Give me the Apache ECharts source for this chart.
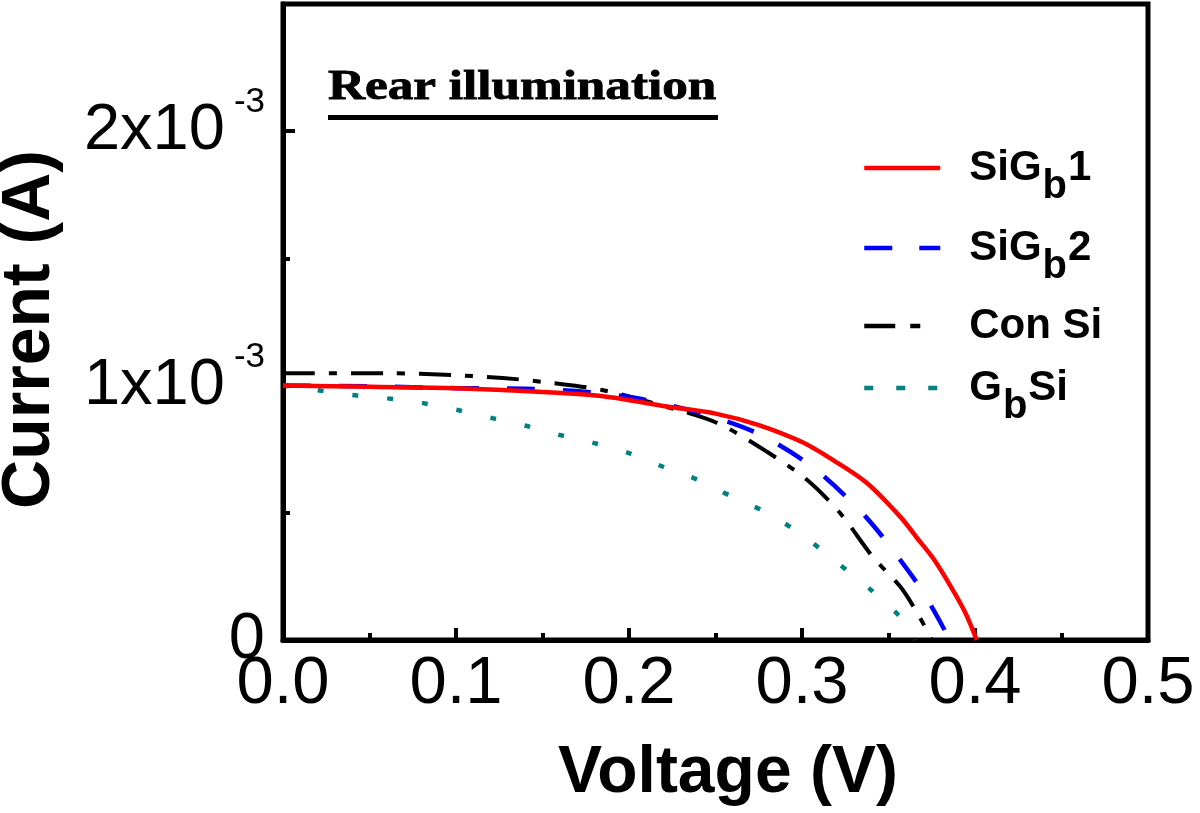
<!DOCTYPE html>
<html>
<head>
<meta charset="utf-8">
<script src="https://cdn.jsdelivr.net/npm/echarts@6/dist/echarts.min.js"></script>
<style>
html,body{margin:0;padding:0;background:#fff;}
#chart{width:1200px;height:813px;}
</style>
</head>
<body>
<div id="chart"></div>
<script>
// ---- data (voltage in V, current in mA) ----
const seriesNames = ['SiGb1', 'SiGb2', 'ConSi', 'GbSi'];

const sigb1V = [0, 0.05, 0.10, 0.15, 0.185, 0.222, 0.25, 0.275, 0.30, 0.318, 0.3375, 0.357, 0.3665, 0.3757, 0.3855, 0.3942, 0.401];
const sigb1I = [1.00, 0.995, 0.99, 0.975, 0.958, 0.918, 0.89, 0.845, 0.778, 0.707, 0.617, 0.483, 0.401, 0.322, 0.216, 0.110, 0.0];

const sigb2V = [0, 0.05, 0.10, 0.14, 0.176, 0.205, 0.241, 0.274, 0.306, 0.337, 0.364, 0.375, 0.3855];
const sigb2I = [1.00, 0.997, 0.99, 0.988, 0.975, 0.95, 0.892, 0.813, 0.68, 0.483, 0.248, 0.13, 0.0];

const consiV = [0, 0.06, 0.098, 0.127, 0.156, 0.185, 0.224, 0.251, 0.28, 0.303, 0.322, 0.341, 0.357, 0.368, 0.375];
const consiI = [1.049, 1.049, 1.041, 1.03, 1.01, 0.982, 0.912, 0.853, 0.739, 0.629, 0.499, 0.326, 0.208, 0.09, 0.0];

const gbsiV = [0, 0.02, 0.04, 0.06, 0.081, 0.101, 0.121, 0.141, 0.16, 0.18, 0.2, 0.22, 0.24, 0.26, 0.28, 0.30, 0.32, 0.34, 0.36, 0.365];
const gbsiI = [1.0, 0.982, 0.963, 0.95, 0.931, 0.904, 0.872, 0.841, 0.806, 0.774, 0.735, 0.68, 0.629, 0.562, 0.499, 0.413, 0.306, 0.196, 0.067, 0.0];

const xTickLabels = ['0.0', '0.1', '0.2', '0.3', '0.4', '0.5'];
const yTickMantissa = ['0', '1x10', '2x10'];
const yTickExponent = ['', '-3', '-3'];

const titleText = 'Rear illumination';
const xName = 'Voltage (V)';
const yName = 'Current (A)';

// ---- build ----
const mA = 1e-3;
function pairs(v, i) { return v.map((x, k) => [x, i[k] * mA]); }

const legendRich = {
  'SiGb1': '{g| }{m|SiG}{b|b}{m|1}',
  'SiGb2': '{g| }{m|SiG}{b|b}{m|2}',
  'ConSi': '{g| }{m|Con Si}',
  'GbSi': '{g| }{m|G}{b|b}{m|Si}'
};
const legendRowY = [168, 248, 327, 388];
const legendLine = {
  'SiGb1': {color: '#ff0000', width: 4.5, type: 'solid'},
  'SiGb2': {color: '#0000ff', width: 4.5, type: [28, 27]},
  'ConSi': {color: '#000000', width: 4.5, type: [31, 15, 10, 20]},
  'GbSi': {color: '#008080', width: 4.5, type: [9, 23]}
};

const FONT = '"Liberation Sans", Arial, sans-serif';

const chart = echarts.init(document.getElementById('chart'), null, {renderer: 'canvas'});

const legends = seriesNames.map((name, i) => ({
  data: [name],
  left: 862,
  top: legendRowY[i] - 22,
  orient: 'vertical',
  itemWidth: 76,
  itemHeight: 14,
  padding: 0,
  selectedMode: false,
  itemStyle: {opacity: 0},
  lineStyle: legendLine[name],
  formatter: n => legendRich[n],
  textStyle: {
    color: '#000',
    rich: {
      g: {width: 24, fontSize: 10},
      m: {fontSize: 42, fontWeight: 'bold', fontFamily: FONT, lineHeight: 44, color: '#000', verticalAlign: 'middle'},
      b: {fontSize: 40, fontWeight: 'bold', fontFamily: FONT, lineHeight: 40, color: '#000', padding: [21, 1, 0, 1], verticalAlign: 'top'}
    }
  }
}));

const option = {
  backgroundColor: '#fff',
  animation: false,
  grid: {
    left: 283, top: 4, right: 52, bottom: 173,
    show: true, borderColor: '#000', borderWidth: 5,
    containLabel: false, outerBoundsMode: 'none'
  },
  legend: legends,
  xAxis: {
    type: 'value', min: 0, max: 0.5, interval: 0.1,
    name: xName, nameLocation: 'middle', nameGap: 101,
    nameTextStyle: {fontSize: 66, fontWeight: 'bold', fontFamily: FONT, color: '#000', padding: [0, 0, 0, 25]},
    axisLine: {show: true, lineStyle: {color: '#000', width: 5}},
    axisTick: {show: true, inside: true, length: 12, lineStyle: {color: '#000', width: 4}},
    minorTick: {show: true, splitNumber: 2, length: 7, lineStyle: {color: '#000', width: 4}},
    splitLine: {show: false},
    minorSplitLine: {show: false},
    axisLabel: {
      show: true, margin: 11, fontSize: 67, fontFamily: FONT, color: '#000',
      showMinLabel: true, showMaxLabel: true, hideOverlap: false,
      formatter: v => xTickLabels[Math.round(v * 10)] ?? ''
    }
  },
  yAxis: [
    {
      type: 'value', min: 0, max: 2.5e-3, interval: 1e-3, position: 'left',
      name: yName, nameLocation: 'middle', nameGap: 219,
      nameTextStyle: {fontSize: 68, fontWeight: 'bold', fontFamily: FONT, color: '#000', padding: [0, 15, 0, 0]},
      axisLine: {show: true, lineStyle: {color: '#000', width: 5}},
      axisTick: {show: true, inside: true, length: 12, lineStyle: {color: '#000', width: 4}},
      splitLine: {show: false},
      axisLabel: {
        show: true, margin: 18, color: '#000',
        showMinLabel: true, showMaxLabel: true, hideOverlap: false,
        formatter: v => {
          const k = Math.round(v / 1e-3);
          if (Math.abs(v / 1e-3 - k) > 1e-6 || k >= yTickMantissa.length) return '';
          return yTickExponent[k] ? '{n|' + yTickMantissa[k] + '}{s|' + yTickExponent[k] + '}' : '{n|' + yTickMantissa[k] + '}';
        },
        rich: {
          n: {fontSize: 65, fontFamily: FONT, color: '#000', lineHeight: 92, verticalAlign: 'middle'},
          s: {fontSize: 35, fontFamily: FONT, color: '#000', lineHeight: 35, verticalAlign: 'top', padding: [0, 0, 0, 9]}
        }
      }
    },
    {
      type: 'value', min: 0, max: 2.5e-3, interval: 5e-4, position: 'left', offset: 0,
      axisLine: {show: false},
      axisTick: {show: true, inside: true, length: 7, lineStyle: {color: '#000', width: 4}},
      splitLine: {show: false},
      axisLabel: {show: false}
    }
  ],
  graphic: [
    {
      type: 'text', x: 328, y: 67, scaleX: 1.28, scaleY: 1.04, z: 10,
      style: {text: titleText, font: 'bold 40px "Liberation Serif", "Times New Roman", serif', fill: '#000', stroke: '#000', lineWidth: 0.8, verticalAlign: 'top', align: 'left'}
    },
    {
      type: 'line', z: 10,
      shape: {x1: 328, y1: 117.5, x2: 718, y2: 117.5},
      style: {stroke: '#000', lineWidth: 5}
    }
  ],
  series: [
    {
      name: 'GbSi', type: 'line', data: pairs(gbsiV, gbsiI), showSymbol: false, symbol: 'none', smooth: 0.3,
      color: '#008080',
      lineStyle: {color: '#008080', width: 4.5, type: [6, 29]}
    },
    {
      name: 'ConSi', type: 'line', data: pairs(consiV, consiI), showSymbol: false, symbol: 'none', smooth: 0.3,
      color: '#000000',
      lineStyle: {color: '#000000', width: 4, type: [32, 14, 8, 14]}
    },
    {
      name: 'SiGb2', type: 'line', data: pairs(sigb2V, sigb2I), showSymbol: false, symbol: 'none', smooth: 0.3,
      color: '#0000ff',
      lineStyle: {color: '#0000ff', width: 4.5, type: [28, 28]}
    },
    {
      name: 'SiGb1', type: 'line', data: pairs(sigb1V, sigb1I), showSymbol: false, symbol: 'none', smooth: 0.3,
      color: '#ff0000',
      lineStyle: {color: '#ff0000', width: 4.5, type: 'solid'}
    }
  ]
};

chart.setOption(option);
</script>
</body>
</html>
